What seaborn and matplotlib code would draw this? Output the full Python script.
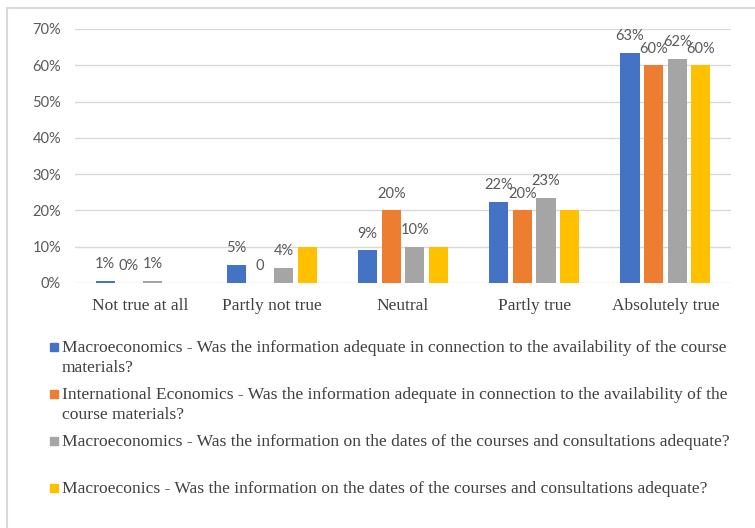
import pandas as pd
import seaborn as sns
import matplotlib.pyplot as plt
from matplotlib.lines import Line2D
from matplotlib.patches import Rectangle

# data
categories = ["Not true at all", "Partly not true", "Neutral", "Partly true", "Absolutely true"]
series = [
    "Macroeconomics - Was the information adequate in connection to the availability of the course\nmaterials?",
    "International Economics - Was the information adequate in connection to the availability of the\ncourse materials?",
    "Macroeconomics - Was the information on the dates of the courses and consultations adequate?",
    "Macroeconics - Was the information on the dates of the courses and consultations adequate?",
]
macro_avail = [0.5, 5, 9, 22.3, 63.4]
intl_avail = [0, 0, 20, 20, 60]
macro_dates = [0.5, 4.2, 10, 23.4, 61.8]
macroec_dates = [0, 10, 10, 20, 60]

macro_avail_lbl = ["1%", "5%", "9%", "22%", "63%"]
intl_avail_lbl = ["0%", "0", "20%", "20%", "60%"]
macro_dates_lbl = ["1%", "4%", "10%", "23%", "62%"]
macroec_dates_lbl = ["", "", "", "", "60%"]

colors = ["#4472C4", "#ED7D31", "#A5A5A5", "#FFC000"]
yticks = [0, 10, 20, 30, 40, 50, 60, 70]

df = pd.DataFrame({
    "category": categories * 4,
    "series": [s for s in series for _ in categories],
    "value": macro_avail + intl_avail + macro_dates + macroec_dates,
})
labels = [macro_avail_lbl, intl_avail_lbl, macro_dates_lbl, macroec_dates_lbl]

sns.set_theme(style="white")
plt.rcParams["font.family"] = ["Liberation Serif", "DejaVu Sans"]

W, H = 755, 528
fig = plt.figure(figsize=(W / 100, H / 100), dpi=100)
ax = fig.add_axes([75 / W, 1 - 283 / H, 656 / W, 254 / H])

sns.barplot(data=df, x="category", y="value", hue="series", palette=colors,
            width=0.72, gap=0.19, errorbar=None, legend=False, ax=ax,
            saturation=1, linewidth=0)

# data labels
for cont, lbl in zip(ax.containers, labels):
    ax.bar_label(cont, labels=lbl, padding=7, fontsize=10.5, color="#595959",
                 family=["Lato", "DejaVu Sans"])

ax.set_ylim(0, 70)
ax.set_xlim(-0.5, 4.5)
ax.set_yticks(yticks)
ax.set_yticklabels([f"{t}%" for t in yticks], family=["Lato", "DejaVu Sans"],
                   fontsize=10.5, color="#595959")
ax.tick_params(axis="y", length=0, pad=10)
ax.tick_params(axis="x", length=0, pad=11, labelsize=12.5, labelcolor="#404040")
ax.set_xlabel("")
ax.set_ylabel("")
ax.yaxis.grid(True, color="#D9D9D9", linewidth=1)
ax.set_axisbelow(True)
for s in ax.spines.values():
    s.set_visible(False)

# chart frame (cut at right/bottom)
fig.add_artist(Line2D([7 / W, 7 / W], [0, 1 - 8 / H], color="#D9D9D9", lw=1.5))
fig.add_artist(Line2D([7 / W, 1], [1 - 8 / H, 1 - 8 / H], color="#D9D9D9", lw=1.5))

# legend, drawn by hand to keep the wrapped layout
for i, (name, c) in enumerate(zip(series, colors)):
    yc = 347 + i * 47
    fig.add_artist(Rectangle((50 / W, 1 - (yc + 4) / H), 8 / W, 8 / H,
                             color=c, transform=fig.transFigure))
    fig.text(62 / W, 1 - (yc - 7) / H, name, ha="left", va="top",
             fontsize=12.6, color="#404040", linespacing=1.3)

fig.savefig("out.png", dpi=100)
